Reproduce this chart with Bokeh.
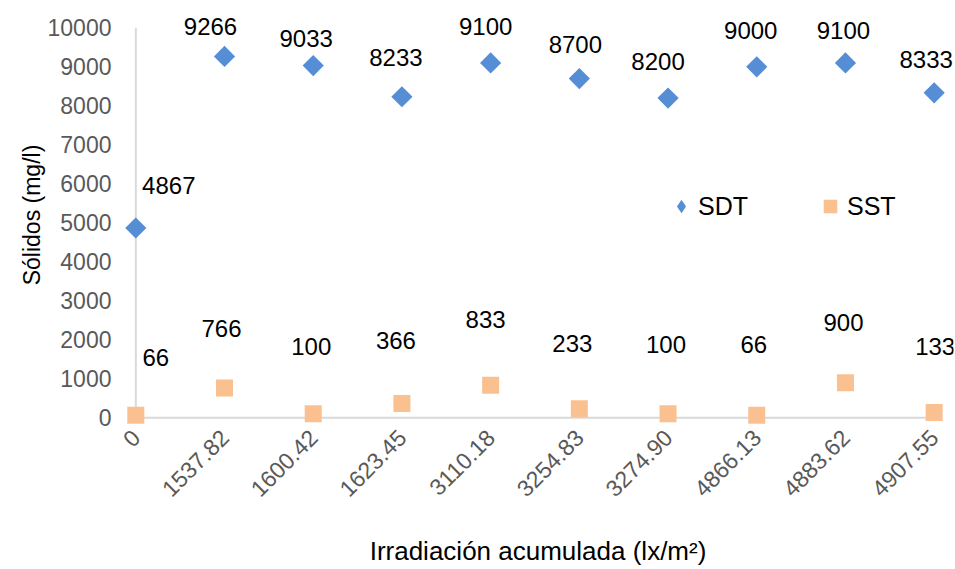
import math
from bokeh.plotting import figure
from bokeh.models import ColumnDataSource, Range1d, FixedTicker, Legend, LegendItem
from bokeh.core.properties import value
from bokeh.embed import file_html
from bokeh.resources import INLINE

# ---- data ----
categories = ["0", "1537.82", "1600.42", "1623.45", "3110.18",
              "3254.83", "3274.90", "4866.13", "4883.62", "4907.55"]
sdt = [4867, 9266, 9033, 8233, 9100, 8700, 8200, 9000, 9100, 8333]
sst = [66, 766, 100, 366, 833, 233, 100, 66, 900, 133]
y_ticks = [0, 1000, 2000, 3000, 4000, 5000, 6000, 7000, 8000, 9000, 10000]

# ---- label placement (screen px, style only) ----
sdt_label_dx = [33, -14, -7, -6, -5, -4, -10, -6, -2, -8]
sdt_label_dy = [-42, -30, -27, -39, -36, -34, -37, -36, -32, -33]
sst_label_dx = [20, -3, -2, -6, -5, -7, -2, -3, -2, 1]
sst_label_dy = [-58, -59, -67, -63, -66, -65, -69, -71, -60, -66]

FONT = "Liberation Sans"
BLUE = "#558ED5"
ORANGE = "#FAC090"
idx = list(range(len(categories)))

src = ColumnDataSource(dict(
    x=idx, sdt=sdt, sst=sst,
    sdt_txt=[str(v) for v in sdt], sst_txt=[str(v) for v in sst],
    sdt_dx=sdt_label_dx, sdt_dy=sdt_label_dy,
    sst_dx=sst_label_dx, sst_dy=sst_label_dy,
))

p = figure(width=955, height=569, output_backend="svg", toolbar_location=None,
           x_range=Range1d(-0.15, len(categories) - 1 + 0.218),
           y_range=Range1d(-250, 10650),
           min_border_left=122, min_border_right=2, min_border_top=2,
           min_border_bottom=141)
p.outline_line_color = None
p.xgrid.visible = False
p.ygrid.visible = False

# axis lines (drawn from the data extents)
axis_src = ColumnDataSource(dict(x0=[0, 0], y0=[0, 0],
                                 x1=[0, len(categories) - 1],
                                 y1=[y_ticks[-1], 0]))
p.segment(x0="x0", y0="y0", x1="x1", y1="y1", source=axis_src,
          line_color="#D9D9D9", line_width=2)

r1 = p.scatter(x="x", y="sdt", source=src, marker="square", size=15,
               angle=math.pi / 4, fill_color=BLUE, line_color=None)
r2 = p.scatter(x="x", y="sst", source=src, marker="square", size=17,
               fill_color=ORANGE, line_color=None)

# legend-only key (diamond shape); zero-size so nothing shows in the plot
r1_key = p.scatter(x="x", y="sdt", source=src, marker="diamond", size=0,
                   fill_color=BLUE, line_color=None)

p.text(x="x", y="sdt", text="sdt_txt", x_offset="sdt_dx", y_offset="sdt_dy",
       source=src, text_font=value(FONT), text_font_size="24px",
       text_color="#000000", text_align="center", text_baseline="middle")
p.text(x="x", y="sst", text="sst_txt", x_offset="sst_dx", y_offset="sst_dy",
       source=src, text_font=value(FONT), text_font_size="24px",
       text_color="#000000", text_align="center", text_baseline="middle")

# x axis
xa = p.xaxis[0]
xa.ticker = FixedTicker(ticks=idx)
xa.major_label_overrides = {i: c for i, c in enumerate(categories)}
xa.major_label_orientation = math.pi / 4
xa.axis_line_color = None
xa.major_tick_line_color = None
xa.minor_tick_line_color = None
xa.major_label_text_font = FONT
xa.major_label_text_font_size = "23px"
xa.major_label_text_color = "#595959"
xa.major_label_standoff = 0
xa.axis_label = "Irradiación acumulada (lx/m²)"
xa.axis_label_text_font = FONT
xa.axis_label_text_font_size = "26px"
xa.axis_label_text_font_style = "normal"
xa.axis_label_text_color = "#000000"
xa.axis_label_standoff = 29

# y axis
ya = p.yaxis[0]
ya.ticker = FixedTicker(ticks=y_ticks)
ya.axis_line_color = None
ya.major_tick_line_color = None
ya.minor_tick_line_color = None
ya.major_label_text_font = FONT
ya.major_label_text_font_size = "23px"
ya.major_label_text_color = "#595959"
ya.major_label_standoff = 5
ya.axis_label = "Sólidos (mg/l)"
ya.axis_label_text_font = FONT
ya.axis_label_text_font_size = "23px"
ya.axis_label_text_font_style = "normal"
ya.axis_label_text_color = "#000000"
ya.axis_label_standoff = 0

legend = Legend(items=[LegendItem(label="SDT", renderers=[r1_key]),
                       LegendItem(label="SST", renderers=[r2])],
                orientation="horizontal", location=(542, 204),
                border_line_color=None, background_fill_alpha=0,
                label_text_font=FONT, label_text_font_size="25px",
                label_text_color="#000000",
                glyph_width=34, glyph_height=34, label_standoff=0,
                spacing=65, padding=0, margin=0)
p.add_layout(legend)

open("out.html", "w").write(file_html(p, INLINE))
